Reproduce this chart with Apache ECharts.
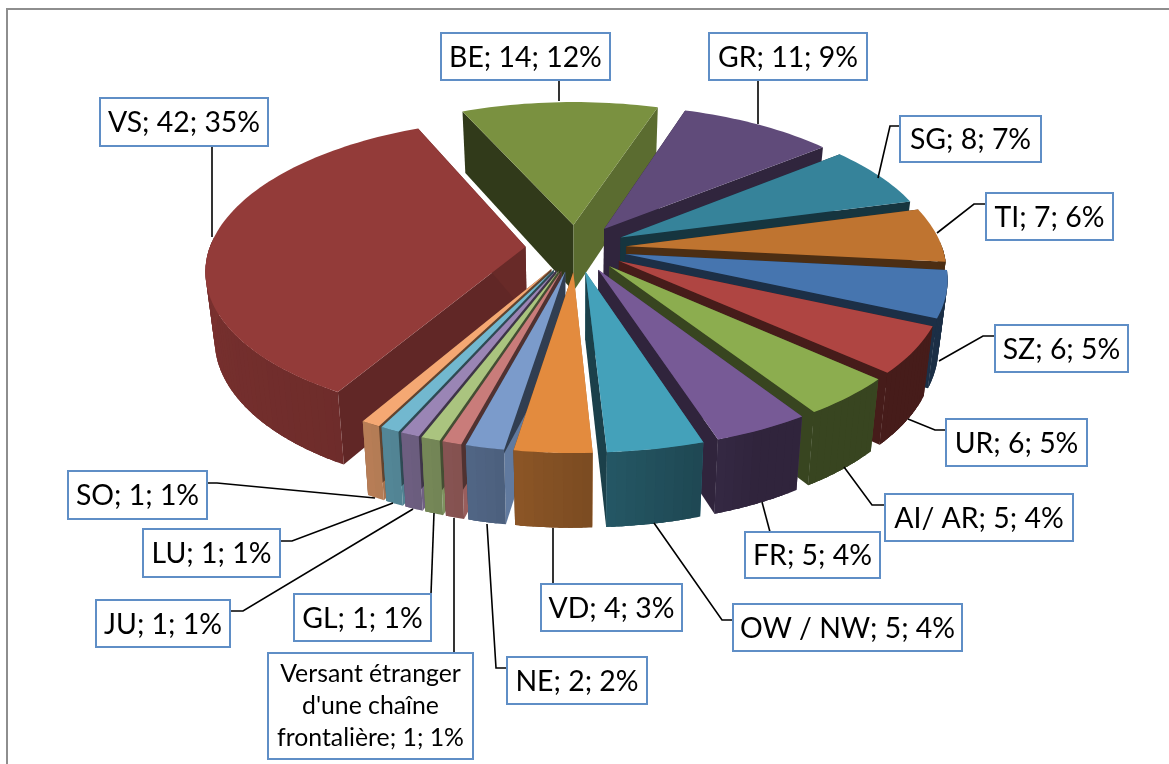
<!DOCTYPE html>
<html><head><meta charset="utf-8">
<style>html,body{margin:0;padding:0;background:#fff}#c{width:1169px;height:764px}</style>
<script src="https://cdn.jsdelivr.net/npm/echarts@6/dist/echarts.min.js"></script>
</head><body><div id="c"></div>
<script>
// ---- data, clockwise from the start of VS ----
const categories = ['VS','BE','GR','SG','TI','SZ','UR','AI/ AR','FR','OW / NW','VD','NE',"Versant étranger\nd'une chaîne\nfrontalière",'GL','JU','LU','SO'];
const values     = [42,14,11,8,7,6,6,5,5,5,4,2,1,1,1,1,1];
const percents   = [35,12,9,7,6,5,5,4,4,4,3,2,1,1,1,1,1];
const topColors  = ['#933B39','#7A9140','#604B7A','#36839A','#BF7430','#4675AF','#AF4542','#8CAD4F','#775A96','#44A1BA','#E38B3E','#7B9BCB','#C97C7A','#AAC47F','#9A85B5','#72B8CF','#F5A873'];

// ---- layout, not data ----
const boxes = { // x, y, w, h
  'SO':[68,471,139,48],'LU':[143,529,137,48],'JU':[96,600,134,47],'GL':[294,594,137,47],
  "Versant":[268,653,205,106],'NE':[507,657,140,47],'VD':[541,584,141,47],'OW / NW':[733,604,229,47],
  'FR':[745,532,135,46],'AI/ AR':[885,494,188,47],'UR':[946,419,141,47],'SZ':[995,325,133,47],
  'TI':[986,193,127,47],'SG':[900,116,141,46],'GR':[709,33,158,47],'BE':[441,33,169,47],'VS':[100,98,168,48]
};
const leaders = {
  'SO':[[207,483],[217,483],[375,498]],'LU':[[280,541],[292,541],[393,503]],'JU':[[230,611],[243,611],[413,509]],
  'GL':[[431,594],[434,513]],"Versant":[[454,653],[454,518]],'NE':[[507,668],[496,668],[487,524]],
  'VD':[[553,584],[553,528]],'OW / NW':[[733,620],[722,620],[654,523]],'FR':[[770,532],[762,502]],
  'AI/ AR':[[885,505],[872,505],[844,467]],'UR':[[946,430],[935,430],[908,419]],'SZ':[[995,336],[983,336],[939,361]],
  'TI':[[986,204],[974,204],[937,233]],'SG':[[900,126],[890,126],[878,178]],'GR':[[758,80],[758,124]],
  'BE':[[559,80],[559,101]],'VS':[[212,146],[212,237]]
};
const CX=576, CY=248, RX=316, RY=147, K=0.145, EXPLODE=0.16, DEPTH=67, START=-150, BASE_SHRINK=0.975;
const rad=d=>d*Math.PI/180;
const total=values.reduce((a,b)=>a+b,0);

function proj(X,Y,down){
  const w=1/(1-K*Y);
  const d=down?DEPTH*Math.pow(w,0.6):0;
  return [CX+X*RX*w*(down?BASE_SHRINK:1), CY+Y*RY*w+d];
}
function shade(hex,f){
  const n=parseInt(hex.slice(1),16);
  const c=[(n>>16)&255,(n>>8)&255,n&255].map(v=>Math.round(v*f));
  return 'rgb('+c.join(',')+')';
}
function radialFactor(nx){return nx<=0?0.4:0.4+0.4*Math.pow(nx,3);}
function outerFactor(t){
  t=((t%360)+360)%360;
  if(t<155) return 0.4;
  if(t<210) return 0.4+(t-155)/55*0.35;
  if(t<270) return 0.75+(t-210)/60*0.08;
  return 0.5;
}

// slices as table rows: start angle, end angle, index; painted back to front
const rows=[]; let acc=START;
values.forEach((v,i)=>{const a=acc,b=acc+v/total*360;acc=b;rows.push([a,b,i]);});
rows.sort((p,q)=>{
  const mp=(p[0]+p[1])/2,mq=(q[0]+q[1])/2;
  return -Math.cos(rad(mp))+Math.cos(rad(mq));
});

function renderSlice(params,api){
  const a=api.value(0),b=api.value(1),i=api.value(2);
  const col=topColors[i],m=rad((a+b)/2);
  const ax=EXPLODE*Math.sin(m),ay=-EXPLODE*Math.cos(m);
  const pt=(t,down)=>proj(ax+Math.sin(rad(t)),ay-Math.cos(rad(t)),down);
  const ap=d=>proj(ax,ay,d);
  const children=[];
  const poly=(points,fill)=>children.push({type:'polygon',shape:{points},style:{fill}});
  // radial walls
  const wall=(t,nAng)=>poly([ap(false),pt(t,false),pt(t,true),ap(true)],shade(col,radialFactor(Math.sin(rad(nAng)))));
  wall(a,a-90); wall(b,b+90);
  // outer wall, only where it faces the viewer; strips overlap so no seams show
  const step=1.5;
  for(let t=a;t<b-1e-6;t+=step){
    const md=t+step/2;
    if(Math.cos(rad(md))>0.02) continue;
    const e=Math.min(t+step*2.5,b);
    const pts=[];
    for(let u=t;u<e;u+=0.5) pts.push(pt(u,false));
    pts.push(pt(e,false));
    const low=[];
    for(let u=t;u<e;u+=0.5) low.push(pt(u,true));
    low.push(pt(e,true));
    poly(pts.concat(low.reverse()),shade(col,outerFactor(md)));
  }
  // top face
  const top=[ap(false)];
  for(let t=a;t<b;t+=step) top.push(pt(t,false));
  top.push(pt(b,false));
  poly(top,col);
  return {type:'group',children};
}

function renderLabel(params,api){
  const i=api.value(0);
  const name=categories[i],key=name.startsWith('Versant')?'Versant':name;
  const [x,y,w,h]=boxes[key],lead=leaders[key];
  const text=name+'; '+values[i]+'; '+percents[i]+'%';
  const multi=key==='Versant';
  return {type:'group',children:[
    {type:'polyline',shape:{points:lead},style:{stroke:'#000',lineWidth:1.6,fill:null}},
    {type:'rect',shape:{x,y,width:w,height:h},style:{fill:'#fff',stroke:'#5F8EC6',lineWidth:2}},
    {type:'text',style:{x:x+w/2,y:y+h/2+(multi?0:1),text,align:'center',verticalAlign:'middle',
      fill:'#000',font:(multi?'24.8px':'28.4px')+' Lato',lineHeight:multi?32:30}}
  ]};
}

const chart=echarts.init(document.getElementById('c'),null,{renderer:'canvas'});
chart.setOption({
  animation:false,
  backgroundColor:'#fff',
  graphic:[{type:'rect',silent:true,z:-1,shape:{x:7,y:9,width:1300,height:900},style:{fill:'#fff',stroke:'#8E8E8E',lineWidth:2}}],
  series:[
    {type:'custom',coordinateSystem:'none',silent:true,z:2,renderItem:renderSlice,data:rows},
    {type:'custom',coordinateSystem:'none',silent:true,z:3,renderItem:renderLabel,data:categories.map((c,i)=>[i])}
  ]
});
</script></body></html>
